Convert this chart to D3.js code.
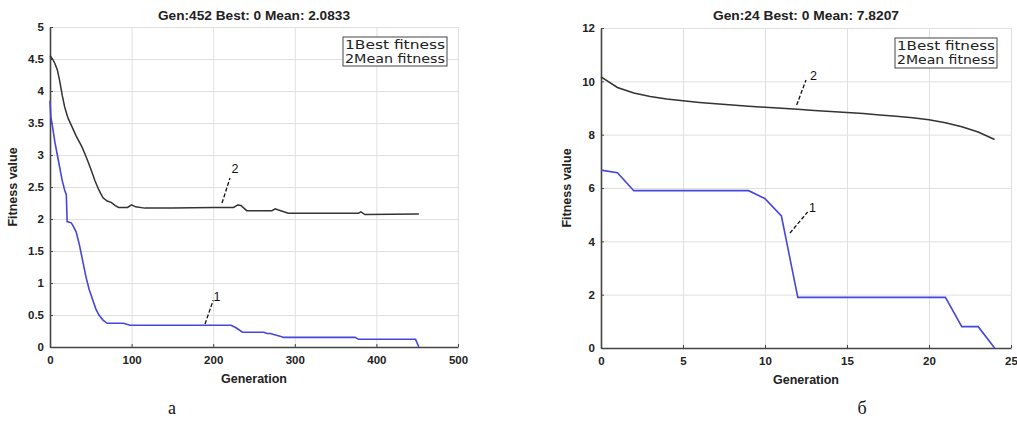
<!DOCTYPE html>
<html><head><meta charset="utf-8">
<script src="https://cdn.jsdelivr.net/npm/d3@7"></script>
<style>body{margin:0;background:#fff}svg{display:block}</style>
</head><body>
<svg id="c" width="1017" height="428"></svg>
<script>
// ---- Chart a data ----
const titleA = "Gen:452 Best: 0 Mean: 2.0833";
const xTicksA = [0, 100, 200, 300, 400, 500];
const yTicksA = [0, 0.5, 1, 1.5, 2, 2.5, 3, 3.5, 4, 4.5, 5];
const bestGenA = [0, 1, 3, 6, 9, 12, 15, 18, 20, 21, 26, 28, 32, 36, 40, 44, 48, 52, 56, 60, 65, 70, 90, 98, 222, 228, 236, 262, 266, 270, 284, 286, 374, 378, 448, 452];
const bestValA = [3.85, 3.6, 3.45, 3.2, 3.0, 2.8, 2.6, 2.45, 2.38, 1.96, 1.94, 1.9, 1.8, 1.6, 1.35, 1.1, 0.9, 0.75, 0.6, 0.5, 0.42, 0.37, 0.37, 0.34, 0.34, 0.3, 0.23, 0.23, 0.21, 0.21, 0.16, 0.15, 0.15, 0.12, 0.12, 0];
const meanGenA = [0, 3, 6, 9, 12, 15, 18, 22, 27, 32, 39, 45, 50, 55, 60, 65, 70, 75, 80, 84, 95, 100, 105, 116, 150, 200, 225, 230, 234, 241, 272, 276, 280, 292, 378, 381, 386, 452];
const meanValA = [4.55, 4.5, 4.43, 4.33, 4.15, 3.93, 3.75, 3.58, 3.44, 3.3, 3.13, 2.95, 2.78, 2.6, 2.45, 2.33, 2.28, 2.26, 2.21, 2.18, 2.18, 2.22, 2.19, 2.17, 2.17, 2.18, 2.18, 2.22, 2.21, 2.13, 2.13, 2.16, 2.14, 2.09, 2.09, 2.11, 2.07, 2.08];

// ---- Chart b data ----
const titleB = "Gen:24 Best: 0 Mean: 7.8207";
const xTicksB = [0, 5, 10, 15, 20, 25];
const yTicksB = [0, 2, 4, 6, 8, 10, 12];
const genB = [0,1,2,3,4,5,6,7,8,9,10,11,12,13,14,15,16,17,18,19,20,21,22,23,24];
const bestValB = [6.67, 6.57, 5.9, 5.9, 5.9, 5.9, 5.9, 5.9, 5.9, 5.9, 5.6, 4.95, 1.9, 1.9, 1.9, 1.9, 1.9, 1.9, 1.9, 1.9, 1.9, 1.9, 0.8, 0.8, 0];
const meanValB = [10.17, 9.77, 9.56, 9.43, 9.34, 9.27, 9.21, 9.16, 9.11, 9.07, 9.03, 8.99, 8.95, 8.91, 8.87, 8.83, 8.79, 8.74, 8.69, 8.63, 8.56, 8.45, 8.3, 8.1, 7.82];

const legendLines = ["1Best fitness", "2Mean fitness"];
const xLabel = "Generation";
const yLabel = "Fitness value";
const panelLabels = ["а", "б"];

// annotations: [x0, y0, x1, y1, labelX, labelY, text]
const annA = [[210.8, 2.25, 220.6, 2.64, 226.7, 2.78, "2"], [190, 0.36, 200, 0.73, 204.6, 0.78, "1"]];
const annB = [[11.93, 9.11, 12.5, 10.05, 12.95, 10.2, "2"], [11.52, 4.31, 12.6, 5.1, 12.9, 5.24, "1"]];

const svg = d3.select("#c");
const BLUE = "#4646dc", DARK = "#333";
const SANS = "Liberation Sans, Arial, sans-serif";

function panel(o) {
  const x = d3.scaleLinear().domain(o.xd).range([o.l, o.r]);
  const y = d3.scaleLinear().domain(o.yd).range([o.b, o.t]);
  const g = svg.append("g");
  // grid
  g.append("g").attr("transform", `translate(0,${o.b})`)
    .call(d3.axisBottom(x).tickValues(o.xt).tickSize(-(o.b - o.t)).tickFormat(""))
    .call(s => { s.select(".domain").remove(); s.selectAll("line").attr("stroke", "#e0e0e0"); });
  g.append("g").attr("transform", `translate(${o.l},0)`)
    .call(d3.axisLeft(y).tickValues(o.yt).tickSize(-(o.r - o.l)).tickFormat(""))
    .call(s => { s.select(".domain").remove(); s.selectAll("line").attr("stroke", "#e0e0e0"); });
  // axes
  const ax = g.append("g").attr("transform", `translate(0,${o.b})`)
    .call(d3.axisBottom(x).tickValues(o.xt).tickSizeInner(-3).tickSizeOuter(0).tickPadding(9).tickFormat(d3.format("")));
  const ay = g.append("g").attr("transform", `translate(${o.l},0)`)
    .call(d3.axisLeft(y).tickValues(o.yt).tickSizeInner(-3).tickSizeOuter(0).tickPadding(6).tickFormat(d3.format("")));
  [ax, ay].forEach(a => {
    a.select(".domain").attr("stroke", "#444").attr("stroke-width", 1.6);
    a.selectAll(".tick line").attr("stroke", "#444");
    a.selectAll("text").attr("font-family", SANS)
      .attr("font-size", 11.5).attr("font-weight", "bold").attr("fill", "#222");
  });
  // lines
  const line = d3.line().x(d => x(d[0])).y(d => y(d[1]));
  g.append("path").datum(o.mean).attr("d", line).attr("fill", "none").attr("stroke", DARK).attr("stroke-width", 1.5);
  g.append("path").datum(o.best).attr("d", line).attr("fill", "none").attr("stroke", BLUE).attr("stroke-width", 1.6);
  // annotations
  o.ann.forEach(a => {
    g.append("line").attr("x1", x(a[0])).attr("y1", y(a[1])).attr("x2", x(a[2])).attr("y2", y(a[3]))
      .attr("stroke", "#111").attr("stroke-width", 1.3).attr("stroke-dasharray", "4,2");
    g.append("text").attr("x", x(a[4])).attr("y", y(a[5]) + 4).attr("text-anchor", "middle")
      .attr("font-family", SANS).attr("font-size", 12.5).attr("fill", "#111").text(a[6]);
  });
  // title
  g.append("text").attr("x", (o.l + o.r) / 2 - o.tw / 2).attr("y", 20)
    .attr("font-family", SANS).attr("font-size", 12.5).attr("font-weight", "bold")
    .attr("textLength", o.tw).attr("lengthAdjust", "spacingAndGlyphs")
    .attr("fill", "#222").text(o.title);
  // x label
  g.append("text").attr("x", (o.l + o.r) / 2).attr("y", o.b + 36).attr("text-anchor", "middle")
    .attr("font-family", SANS).attr("font-size", 12.5).attr("font-weight", "bold")
    .attr("fill", "#222").text(xLabel);
  // y label
  g.append("text").attr("transform", `translate(${o.yl},${(o.t + o.b) / 2}) rotate(-90)`).attr("text-anchor", "middle")
    .attr("font-family", SANS).attr("font-size", 12.5).attr("font-weight", "bold")
    .attr("fill", "#222").text(yLabel);
  // legend
  const lg = o.lg;
  g.append("rect").attr("x", lg[0]).attr("y", lg[1]).attr("width", lg[2]).attr("height", lg[3])
    .attr("fill", "#fff").attr("stroke", "#444").attr("stroke-width", 1);
  legendLines.forEach((t, i) => {
    g.append("text").attr("x", lg[0] + 2).attr("y", lg[1] + 12 + i * 14)
      .attr("font-family", "DejaVu Sans, sans-serif").attr("font-size", 12.5).attr("fill", "#222")
      .attr("textLength", lg[2] - 4).attr("lengthAdjust", "spacingAndGlyphs").text(t);
  });
  // panel label
  svg.append("text").attr("x", o.pl).attr("y", 414).attr("text-anchor", "middle")
    .attr("font-family", "Liberation Serif, Times New Roman, serif").attr("font-size", 18).attr("fill", "#111").text(o.plabel);
}

panel({
  l: 50, r: 458, t: 27, b: 347, xd: [0, 500], yd: [0, 5], xt: xTicksA, yt: yTicksA,
  best: bestGenA.map((g, i) => [g, bestValA[i]]), mean: meanGenA.map((g, i) => [g, meanValA[i]]),
  ann: annA, title: titleA, tw: 192, yl: 17, lg: [343, 37, 104, 29], pl: 172, plabel: panelLabels[0]
});
panel({
  l: 601, r: 1011, t: 28, b: 348, xd: [0, 25], yd: [0, 12], xt: xTicksB, yt: yTicksB,
  best: genB.map((g, i) => [g, bestValB[i]]), mean: genB.map((g, i) => [g, meanValB[i]]),
  ann: annB, title: titleB, tw: 186, yl: 571, lg: [895, 38, 102, 30], pl: 862, plabel: panelLabels[1]
});
</script>
</body></html>
